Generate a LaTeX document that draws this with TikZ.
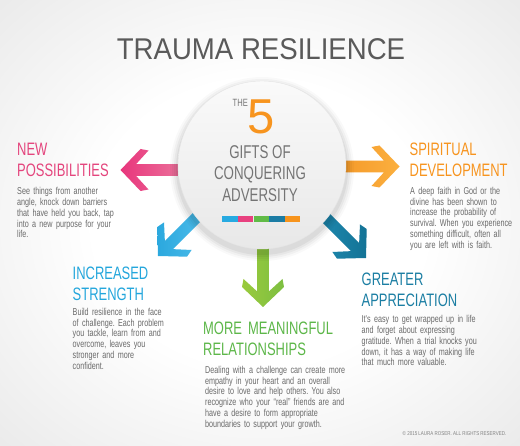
\documentclass[tikz,border=0pt]{standalone}
\usepackage{fontspec}
\setmainfont{Liberation Sans}
\newfontfamily\titlefont[FakeStretch=0.92]{Liberation Sans}
\newfontfamily\condfont[FakeStretch=0.72]{Liberation Sans}
\newfontfamily\smallcond[FakeStretch=0.8]{Liberation Sans}
\frenchspacing
\definecolor{pinkH}{HTML}{E4457D}
\definecolor{orangeH}{HTML}{F7941E}
\definecolor{cyanH}{HTML}{23A6DC}
\definecolor{greenH}{HTML}{5DB749}
\definecolor{tealH}{HTML}{1B7EA3}
\definecolor{bodygray}{HTML}{6A6A6A}
\definecolor{hubgray}{HTML}{747474}
\definecolor{titlegray}{HTML}{5A5A5A}
\definecolor{barcyan}{HTML}{27AAE1}
\definecolor{barpink}{HTML}{E8417F}
\definecolor{bargreen}{HTML}{61BB47}
\definecolor{barteal}{HTML}{1B7CA4}
\definecolor{barorange}{HTML}{F7941D}
\definecolor{pinkA}{HTML}{E8357C}
\definecolor{pinkB}{HTML}{EB6F99}
\definecolor{orangeA}{HTML}{F59A2A}
\definecolor{orangeB}{HTML}{FBB03F}
\definecolor{cyanA}{HTML}{2BA8DE}
\definecolor{cyanB}{HTML}{4DBCEA}
\definecolor{greenA}{HTML}{9ACA3C}
\definecolor{greenB}{HTML}{7DBF42}
\definecolor{tealA}{HTML}{1E88AE}
\definecolor{tealB}{HTML}{137396}
\pgfdeclareradialshading{bgshade}{\pgfpoint{0bp}{0bp}}{color(0bp)=(white);color(16bp)=(white);color(50bp)=(black!14);color(72bp)=(black!22)}
\tikzset{
  pics/chev/.style n args={3}{code={
    \shade[left color=#1, right color=#2]
      (0,0) -- (-20,21) -- (-28,19.5) -- (-15.5,5.8) -- (-#3,5.8) --
      (-#3,-5.8) -- (-15.5,-5.8) -- (-28,-19.5) -- (-20,-21) -- cycle;
  }},
  headtxt/.style={anchor=base west, inner sep=0, text width=200pt, align=left,
    font=\condfont\fontsize{18}{20.7}\selectfont},
  bodytxt/.style={anchor=base west, inner sep=0, text width=200pt, align=left,
    text=bodygray, font=\condfont\fontsize{10}{10.75}\selectfont},
  hubtxt/.style={anchor=base, inner sep=0, text=hubgray,
    font=\condfont\fontsize{18.5}{18.5}\selectfont},
  barseg/.style={minimum width=15.3pt, minimum height=5.5pt, inner sep=0, anchor=west},
}
\begin{document}
\begin{tikzpicture}[x=1pt,y=-1pt]
\useasboundingbox (0,0) rectangle (520,446);
\shade[shading=bgshade] (0,0) rectangle (520,446);

% title
\node[anchor=base, inner sep=0, text=titlegray, font=\titlefont\fontsize{30}{30}\selectfont] (title) at (261,60) {TRAUMA RESILIENCE};

% arrows
\coordinate (pinktip) at (120.5,170);
\coordinate (orangetip) at (399.5,166.5);
\coordinate (cyantip) at (158,256);
\coordinate (tealtip) at (366,258);
\coordinate (greentip) at (263,307);
\pic[rotate=180] at (pinktip) {chev={pinkA}{pinkB}{58}};
\pic at (orangetip) {chev={orangeA}{orangeB}{57}};
\pic[rotate=-135] at (cyantip) {chev={cyanA}{cyanB}{60}};
\pic[rotate=-45] at (tealtip) {chev={tealA}{tealB}{60}};
\pic[rotate=-90] at (greentip) {chev={greenA}{greenB}{62}};

% hub circle with soft shadow
\foreach \r/\o in {92/0.025,90/0.03,88/0.04,86/0.05}
  \fill[black, opacity=\o] (262,169) circle (\r);
\node[circle, minimum size=168pt, inner sep=0, draw=black!10, line width=0.4pt,
      top color=black!2, bottom color=black!9] (hub) at (262,165) {};

\node[anchor=base east, inner sep=0, text=hubgray, font=\condfont\fontsize{10.5}{10.5}\selectfont] (the) at (248,106.5) {THE};
\node[anchor=base west, inner sep=0, text=orangeH, font=\fontsize{49}{49}\selectfont] (five) at (247.5,133.5) {5};
\node[hubtxt] (gifts1) at (260,158.3) {GIFTS OF};
\node[hubtxt] (gifts2) at (260,180) {CONQUERING};
\node[hubtxt] (gifts3) at (260,201.7) {ADVERSITY};
\node[barseg, fill=barcyan] (bar1) at (222,218.8) {};
\node[barseg, fill=barpink] (bar2) at (bar1.east) {};
\node[barseg, fill=bargreen] (bar3) at (bar2.east) {};
\node[barseg, fill=barteal] (bar4) at (bar3.east) {};
\node[barseg, fill=barorange] (bar5) at (bar4.east) {};

% texts
\node[headtxt, text=pinkH] (newh) at (17,156) {NEW\\POSSIBILITIES};
\node[bodytxt] (newb) at (17,195) {See things from another\\angle, knock down barriers\\that have held you back, tap\\into a new purpose for your\\life.};

\node[headtxt, text=orangeH] (spih) at (409.5,156) {SPIRITUAL\\DEVELOPMENT};
\node[bodytxt] (spib) at (410,194.5) {A deep faith in God or the\\divine has been shown to\\increase the probability of\\survival. When you experience\\something difficult, often all\\you are left with is faith.};

\node[headtxt, text=cyanH] (inch) at (72.5,279.5) {INCREASED\\STRENGTH};
\node[bodytxt] (incb) at (72.5,315.5) {Build resilience in the face\\of challenge. Each problem\\you tackle, learn from and\\overcome, leaves you\\stronger and more\\confident.};

\node[headtxt, text=greenH] (morh) at (203,335) {MORE MEANINGFUL\\RELATIONSHIPS};
\node[bodytxt] (morb) at (205,373.5) {Dealing with a challenge can create more\\empathy in your heart and an overall\\desire to love and help others. You also\\recognize who your “real” friends are and\\have a desire to form appropriate\\boundaries to support your growth.};

\node[headtxt, text=tealH] (greh) at (361.5,286) {GREATER\\APPRECIATION};
\node[bodytxt] (greb) at (361.5,323) {It's easy to get wrapped up in life\\and forget about expressing\\gratitude. When a trial knocks you\\down, it has a way of making life\\that much more valuable.};

\node[anchor=base east, inner sep=0, text=black!50, font=\smallcond\fontsize{5.6}{5.6}\selectfont] (copy) at (506.5,435.7) {© 2015 LAURA ROSER. ALL RIGHTS RESERVED.};
\end{tikzpicture}
\end{document}
